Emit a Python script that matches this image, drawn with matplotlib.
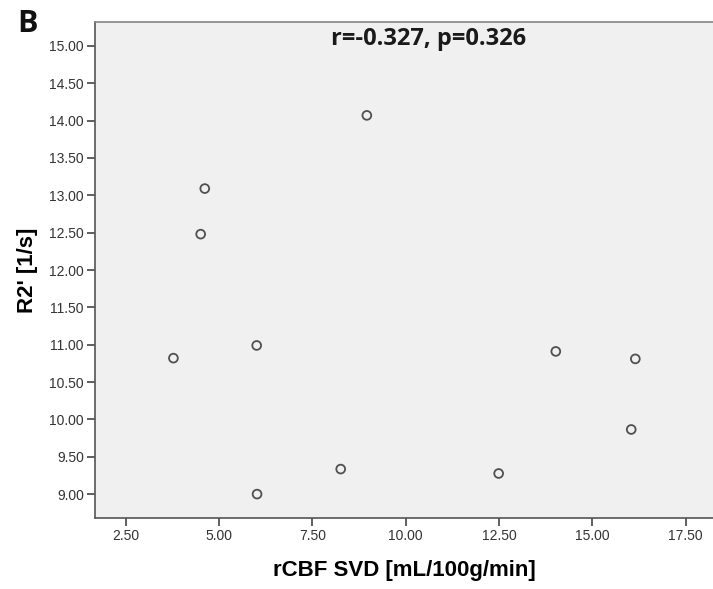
import matplotlib
matplotlib.use("Agg")
import matplotlib.pyplot as plt

# Data
rcbf = [8.96, 4.62, 4.51, 3.78, 6.01, 6.02, 8.26, 12.49, 14.02, 16.15, 16.04]
r2p = [14.07, 13.09, 12.48, 10.82, 10.99, 9.00, 9.335, 9.276, 10.91, 10.81, 9.865]
xticks = [2.5, 5.0, 7.5, 10.0, 12.5, 15.0, 17.5]
yticks = [9.0, 9.5, 10.0, 10.5, 11.0, 11.5, 12.0, 12.5, 13.0, 13.5, 14.0, 14.5, 15.0]

fig = plt.figure(figsize=(7.13, 5.89), dpi=100)
ax = fig.add_axes([95/713, 1-518/589, (713-95)/713, (518-22)/589])
ax.set_facecolor("#f0f0f0")

ax.scatter(rcbf, r2p, s=40, facecolors="none", edgecolors="#505050", linewidths=1.3, zorder=3)

ax.set_xlim(1.68, 18.23)
ax.set_ylim(8.68, 15.32)
ax.set_xticks(xticks)
ax.set_yticks(yticks)
ax.set_xticklabels([f"{v:.2f}" for v in xticks])
ax.set_yticklabels([f"{v:.2f}" for v in yticks])

for name, sp in ax.spines.items():
    sp.set_color("#555555")
    sp.set_linewidth(1.2)
ax.spines["top"].set_color("#858585")
ax.spines["right"].set_visible(False)

ax.tick_params(axis="both", direction="out", length=6, width=1.2, color="#444444",
               labelsize=10, labelcolor="#333333", pad=2)
for lab in ax.get_xticklabels() + ax.get_yticklabels():
    lab.set_family("Liberation Sans")

ax.set_xlabel("rCBF SVD [mL/100g/min]", fontsize=16, fontweight="bold",
              family="Liberation Sans", labelpad=12)
ax.set_ylabel("R2' [1/s]", fontsize=16, fontweight="bold",
              family="Liberation Sans", labelpad=8)

fig.text(429/713, 1-45/589, "r=-0.327, p=0.326", fontsize=17, fontweight="bold",
         family="Open Sans", ha="center", va="baseline", color="#1a1a1a")
fig.text(17/713, 1-32/589, "B", fontsize=22, fontweight="bold",
         family="Open Sans", ha="left", va="baseline", color="#111111")

fig.savefig("out.png", dpi=100)
